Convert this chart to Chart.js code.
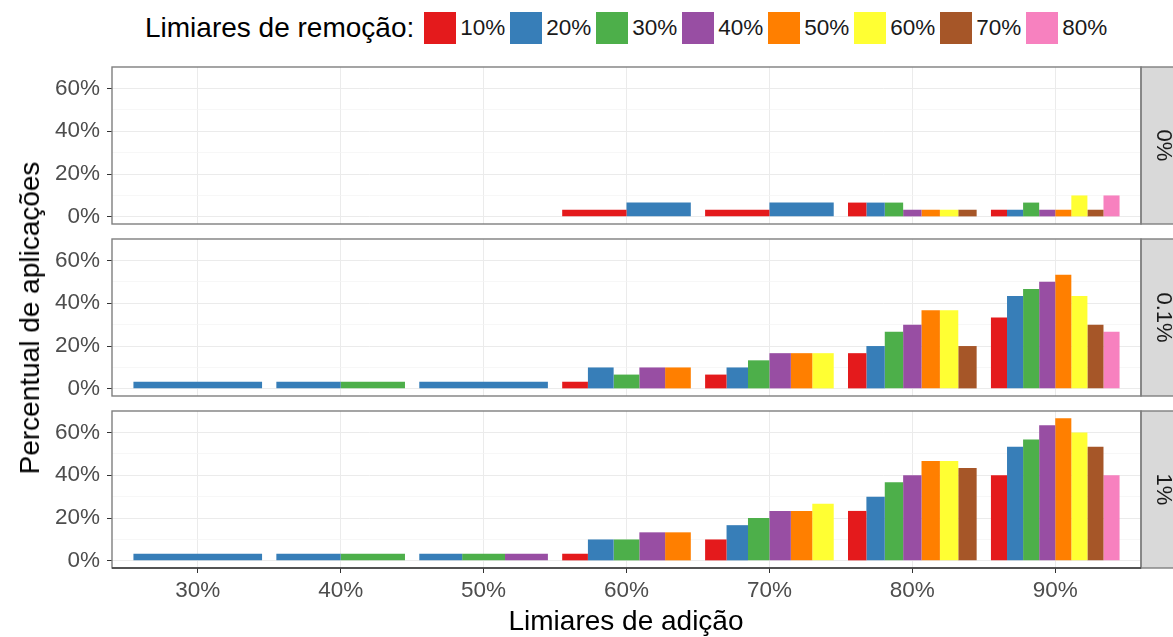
<!DOCTYPE html>
<html lang="pt">
<head>
<meta charset="utf-8">
<title>Percentual de aplicações por limiares de adição e remoção</title>
<script src="https://cdn.jsdelivr.net/npm/chart.js@4/dist/chart.umd.min.js"></script>
<style>
  html, body { margin: 0; padding: 0; background: #ffffff; }
  body { width: 1173px; height: 637px; position: relative; overflow: hidden;
         font-family: "Liberation Sans", Arial, Helvetica, sans-serif; }
  canvas { position: absolute; left: 0; }
  #legenda { position: absolute; left: 145px; top: 12px; height: 32px;
             display: flex; align-items: center; white-space: nowrap; }
  #legenda .titulo { font-size: 28px; color: #000; margin-right: 10px; }
  #legenda .item { display: inline-flex; align-items: center; width: 86px; }
  #legenda .caixa { width: 32px; height: 32px; margin-right: 4px; }
  #legenda .rotulo { font-size: 22.5px; color: #1a1a1a; }
  .titulo-eixo { position: absolute; font-size: 28px; color: #000; white-space: nowrap;
                 transform: translate(-50%, -50%); }
  #titulo-y { transform: translate(-50%, -50%) rotate(-90deg); }
</style>
</head>
<body>
<div id="legenda"></div>
<canvas id="painel0" width="1173" height="217"></canvas>
<canvas id="painel1" width="1173" height="217"></canvas>
<canvas id="painel2" width="1173" height="227"></canvas>
<div class="titulo-eixo" id="titulo-x" style="left:626px; top:621px;">Limiares de adição</div>
<div class="titulo-eixo" id="titulo-y" style="left:30px; top:318px;">Percentual de aplicações</div>

<script>
// Limiares de adição (eixo x)
const limiaresAdicao = ['30%', '40%', '50%', '60%', '70%', '80%', '90%'];
// Limiares de remoção (séries) e cores
const limiaresRemocao = ['10%', '20%', '30%', '40%', '50%', '60%', '70%', '80%'];
const coresRemocao = ['#E41A1C', '#377EB8', '#4DAF4A', '#984EA3', '#FF7F00', '#FFFF33', '#A65628', '#F781BF'];
// Rótulos das faixas (facetas)
const faixas = ['0%', '0.1%', '1%'];
// Marcas do eixo y
const marcasY = [0, 10, 20, 30, 40, 50, 60];

// Percentual de aplicações — faixa 0%  (uma linha por limiar de remoção)
const valoresFaixa0 = [
  [null, null, null, 3.33, 3.33, 6.67, 3.33],
  [null, null, null, 6.67, 6.67, 6.67, 3.33],
  [null, null, null, null, null, 6.67, 6.67],
  [null, null, null, null, null, 3.33, 3.33],
  [null, null, null, null, null, 3.33, 3.33],
  [null, null, null, null, null, 3.33, 10.0],
  [null, null, null, null, null, 3.33, 3.33],
  [null, null, null, null, null, null, 10.0]
];
// Faixa 0.1%
const valoresFaixa1 = [
  [null, null, null, 3.33, 6.67, 16.67, 33.33],
  [3.33, 3.33, 3.33, 10.0, 10.0, 20.0, 43.33],
  [null, 3.33, null, 6.67, 13.33, 26.67, 46.67],
  [null, null, null, 10.0, 16.67, 30.0, 50.0],
  [null, null, null, 10.0, 16.67, 36.67, 53.33],
  [null, null, null, null, 16.67, 36.67, 43.33],
  [null, null, null, null, null, 20.0, 30.0],
  [null, null, null, null, null, null, 26.67]
];
// Faixa 1%
const valoresFaixa2 = [
  [null, null, null, 3.33, 10.0, 23.33, 40.0],
  [3.33, 3.33, 3.33, 10.0, 16.67, 30.0, 53.33],
  [null, 3.33, 3.33, 10.0, 20.0, 36.67, 56.67],
  [null, null, 3.33, 13.33, 23.33, 40.0, 63.33],
  [null, null, null, 13.33, 23.33, 46.67, 66.67],
  [null, null, null, null, 26.67, 46.67, 60.0],
  [null, null, null, null, null, 43.33, 53.33],
  [null, null, null, null, null, null, 40.0]
];

const FONTE = '"Liberation Sans", Arial, Helvetica, sans-serif';

// Legenda
const legenda = document.getElementById('legenda');
const tituloLeg = document.createElement('span');
tituloLeg.className = 'titulo';
tituloLeg.textContent = 'Limiares de remoção:';
legenda.appendChild(tituloLeg);
limiaresRemocao.forEach((rot, i) => {
  const item = document.createElement('span');
  item.className = 'item';
  const caixa = document.createElement('span');
  caixa.className = 'caixa';
  caixa.style.background = coresRemocao[i];
  const texto = document.createElement('span');
  texto.className = 'rotulo';
  texto.textContent = rot;
  item.appendChild(caixa);
  item.appendChild(texto);
  legenda.appendChild(item);
});

// Moldura do painel e faixa cinza lateral com o rótulo
const molduraPainel = {
  id: 'molduraPainel',
  afterDatasetsDraw(chart, args, opts) {
    const { ctx, chartArea: a } = chart;
    const larguraFaixa = 44;
    ctx.save();
    ctx.fillStyle = '#d9d9d9';
    ctx.fillRect(a.right, a.top, larguraFaixa, a.bottom - a.top);
    ctx.strokeStyle = '#7f7f7f';
    ctx.lineWidth = 1.4;
    ctx.strokeRect(a.left, a.top, a.right - a.left, a.bottom - a.top);
    ctx.strokeRect(a.right, a.top, larguraFaixa, a.bottom - a.top);
    if (opts.eixoX) {
      ctx.strokeStyle = '#3a3a3a';
      ctx.lineWidth = 1.4;
      ctx.beginPath();
      ctx.moveTo(a.left, a.bottom);
      ctx.lineTo(a.right, a.bottom);
      ctx.stroke();
    }
    ctx.translate(a.right + larguraFaixa / 2, (a.top + a.bottom) / 2);
    ctx.rotate(Math.PI / 2);
    ctx.fillStyle = '#1a1a1a';
    ctx.font = '22px ' + FONTE;
    ctx.textAlign = 'center';
    ctx.textBaseline = 'middle';
    ctx.fillText(opts.rotulo, 0, 0);
    ctx.restore();
  }
};

function criarPainel(idCanvas, topo, valores, rotuloFaixa, inferior) {
  const canvas = document.getElementById(idCanvas);
  canvas.style.top = topo + 'px';
  const datasets = limiaresRemocao.map((rot, s) => ({
    label: rot,
    data: valores[s].map((v, i) => ({ x: i, y: v })),
    backgroundColor: coresRemocao[s],
    borderWidth: 0,
    categoryPercentage: 0.9,
    barPercentage: 1.0,
    skipNull: true
  }));
  return new Chart(canvas, {
    type: 'bar',
    data: { datasets },
    plugins: [molduraPainel],
    options: {
      responsive: false,
      animation: false,
      layout: { padding: { top: 30, bottom: inferior ? 0 : 30, left: 0, right: 32 } },
      plugins: {
        legend: { display: false },
        tooltip: { enabled: false },
        molduraPainel: { rotulo: rotuloFaixa, eixoX: inferior }
      },
      scales: {
        x: {
          type: 'linear',
          offset: false,
          min: -0.6,
          max: 6.6,
          border: { display: false },
          afterBuildTicks: (s) => { s.ticks = limiaresAdicao.map((_, i) => ({ value: i })); },
          afterFit: (s) => { s.height = inferior ? 40 : 0; },
          grid: {
            offset: false,
            color: '#ebebeb',
            lineWidth: 1,
            drawTicks: inferior,
            tickLength: 5,
            tickColor: '#333333'
          },
          ticks: {
            display: inferior,
            autoSkip: false,
            maxRotation: 0,
            padding: 4,
            color: '#4d4d4d',
            font: { family: FONTE, size: 22.5 },
            callback: (v) => limiaresAdicao[v] ?? ''
          }
        },
        y: {
          type: 'linear',
          min: -3.333,
          max: 70,
          border: { display: false },
          afterBuildTicks: (s) => { s.ticks = marcasY.map(v => ({ value: v })); },
          afterFit: (s) => { s.width = 112; },
          grid: {
            color: (c) => (c.tick && c.tick.value % 20 === 0) ? '#ebebeb' : '#f4f4f4',
            lineWidth: (c) => (c.tick && c.tick.value % 20 === 0) ? 1 : 0.7,
            drawTicks: true,
            tickLength: 5,
            tickColor: (c) => (c.tick && c.tick.value % 20 === 0) ? '#333333' : 'rgba(0,0,0,0)'
          },
          ticks: {
            autoSkip: false,
            padding: 7,
            color: '#4d4d4d',
            font: { family: FONTE, size: 22.5 },
            callback: (v) => (v % 20 === 0) ? v + '%' : ''
          }
        }
      }
    }
  });
}

criarPainel('painel0', 37, valoresFaixa0, faixas[0], false);
criarPainel('painel1', 209, valoresFaixa1, faixas[1], false);
criarPainel('painel2', 381, valoresFaixa2, faixas[2], true);
</script>
</body>
</html>
